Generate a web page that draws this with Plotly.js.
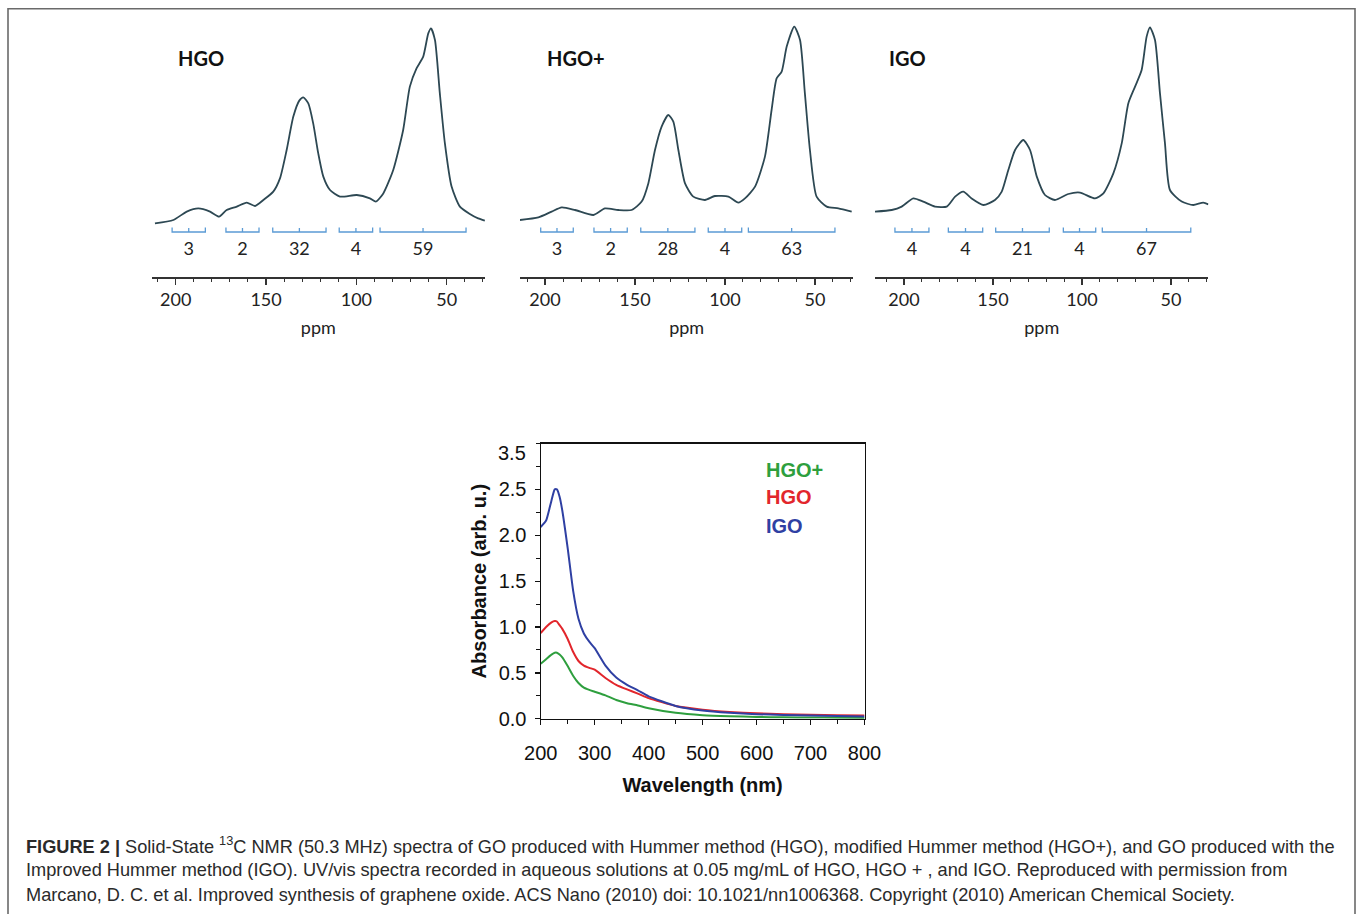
<!DOCTYPE html>
<html>
<head>
<meta charset="utf-8">
<script src="https://cdn.plot.ly/plotly-3.0.1.min.js"></script>
<style>
  html, body { margin: 0; padding: 0; background: #ffffff; }
  #chart { width: 1358px; height: 914px; }
</style>
</head>
<body>
<div id="chart"></div>
<script>
// ---------------- DATA ----------------
// 13C NMR spectra (chemical shift in ppm, relative intensity)
const hgoPpm = [211.5, 201.3, 193.9, 187.5, 181, 176, 171.8, 166.2, 160.7, 156.1, 151.5, 146, 142.3, 138.6, 134.9, 131.6, 129.4, 126.6, 123.9, 121.1, 118.3, 114.6, 109.1, 99.8, 92.5, 89.2, 85.1, 79.6, 74.1, 70.4, 66.7, 63, 60.2, 58.7, 56.5, 53.8, 51, 47.3, 42.7, 37.2, 32.6, 28.9];
const hgoInt = [4.3, 6, 10.2, 11.8, 10.2, 7.7, 11, 12.7, 14.7, 13, 16, 20.2, 26.8, 41, 57.7, 65.7, 67.3, 64.3, 54.3, 39.3, 27.7, 21, 17.7, 18.5, 16.8, 15.2, 19.3, 31, 51, 72.7, 81.8, 87.7, 99.3, 101.8, 96, 69.3, 44.3, 22.7, 12.7, 9, 6.8, 5.7];

const hgoPlusPpm = [213.9, 203.7, 196.3, 190.7, 183.3, 173.1, 166.7, 159.3, 151.9, 146.3, 142.6, 138.9, 135.2, 131.5, 128.7, 125.9, 122.2, 117.6, 111.1, 105.6, 98.1, 92.6, 88.9, 83.3, 77.8, 74.1, 71.3, 68.5, 65.7, 61.5, 58.3, 55.6, 52.8, 49.1, 43.5, 37, 29.6];
const hgoPlusInt = [6, 7.3, 10.2, 12.3, 11, 8.5, 11.8, 11, 11, 15.2, 24.3, 41, 52.7, 58.5, 55.2, 41, 24.3, 17.7, 16, 18, 17.7, 14.7, 16.8, 22.7, 37.7, 61, 76.8, 80.2, 92.7, 102.7, 96, 69.3, 41, 17.7, 12.7, 11.8, 10.2];

const igoPpm = [216.3, 206.9, 201.3, 194.8, 189.2, 182.6, 176, 171.3, 166.7, 162, 155.4, 148.9, 145.1, 141.4, 137.6, 133, 129.2, 125.4, 120.8, 115.2, 107.7, 101.1, 92.7, 88, 82.4, 77.7, 74, 70.2, 66.5, 63.7, 61.8, 59, 56.2, 53.4, 50.6, 44, 37.5, 31.9, 29];
const igoInt = [10.2, 11, 12.7, 16.8, 15.2, 12.7, 12.7, 17.7, 20.2, 16.8, 13.5, 16, 20.2, 31, 41, 46, 41, 27.7, 18.5, 16, 19, 19.7, 16.8, 19.3, 29.3, 44.3, 64.3, 72.7, 81, 97.7, 102.3, 96, 69.3, 44.3, 21, 15.2, 13.5, 14.7, 13.8];

// Integration regions (ppm) and integrals (%)
const hgoBracketStart = [202, 172.2, 146.3, 109.5, 86.9];
const hgoBracketEnd   = [183.6, 153.9, 116.8, 91, 39.3];
const hgoIntegrals    = ["3", "2", "32", "4", "59"];

const hgoPlusBracketStart = [202.4, 172.8, 146.8, 109.3, 87];
const hgoPlusBracketEnd   = [184.3, 154.3, 116.7, 90.7, 38.9];
const hgoPlusIntegrals    = ["3", "2", "28", "4", "63"];

const igoBracketStart = [205.1, 175.1, 148.5, 110.5, 88.6];
const igoBracketEnd   = [186, 155.8, 118.4, 92.3, 38.9];
const igoIntegrals    = ["4", "4", "21", "4", "67"];

const nmrTickVals = [200, 150, 100, 50];
const panelNames = ["HGO", "HGO+", "IGO"];

// UV/vis absorbance spectra
const wavelength = [200, 210, 220, 226, 230, 235, 240, 250, 260, 270, 280, 290, 300, 320, 340, 360, 380, 400, 450, 500, 550, 600, 650, 700, 750, 800];
const absIGO     = [2.09, 2.16, 2.38, 2.50, 2.50, 2.42, 2.27, 1.86, 1.40, 1.09, 0.93, 0.84, 0.77, 0.58, 0.45, 0.37, 0.31, 0.245, 0.14, 0.09, 0.065, 0.05, 0.042, 0.035, 0.03, 0.025];
const absHGO     = [0.935, 1.00, 1.05, 1.065, 1.06, 1.02, 0.98, 0.87, 0.73, 0.63, 0.58, 0.555, 0.535, 0.445, 0.37, 0.32, 0.275, 0.225, 0.14, 0.10, 0.075, 0.06, 0.05, 0.045, 0.04, 0.035];
const absHGOplus = [0.60, 0.65, 0.70, 0.72, 0.72, 0.70, 0.67, 0.575, 0.47, 0.39, 0.34, 0.315, 0.295, 0.255, 0.205, 0.17, 0.145, 0.115, 0.065, 0.04, 0.028, 0.02, 0.016, 0.014, 0.012, 0.01];
const uvLegend = ["HGO+", "HGO", "IGO"];
const uvYTicks = [0, 0.5, 1.0, 1.5, 2.0, 2.5];
const uvYTickText = ["0.0", "0.5", "1.0", "1.5", "2.0", "2.5"];
const uvTopLabel = "3.5";

// ---------------- LAYOUT HELPERS ----------------
const W = 1358, H = 914;
const px = v => v / W;
const py = v => 1 - v / H;

const curveColor = "#2d4853";
const bracketColor = "#5b9bd5";
const nmrFont = "Lato, 'Liberation Sans', Arial, sans-serif";
const uvFont = "'Liberation Sans', Arial, sans-serif";
const colGreen = "#2e9f3e", colRed = "#e2262c", colBlue = "#2f40a3";

function bracketTrace(starts, ends, xa, ya) {
  const xs = [], ys = [];
  for (let i = 0; i < starts.length; i++) {
    const c = (starts[i] + ends[i]) / 2;
    xs.push(starts[i], starts[i], ends[i], ends[i], null, c, c, null);
    ys.push(2.3, 0.0, 0.0, 2.3, null, 0.0, 2.0, null);
  }
  return { x: xs, y: ys, xaxis: xa, yaxis: ya, mode: "lines", type: "scatter",
           line: { color: bracketColor, width: 1.3 }, hoverinfo: "skip", showlegend: false };
}
function labelTrace(starts, ends, labels, xa, ya) {
  return { x: starts.map((s, i) => (s + ends[i]) / 2), y: labels.map(() => -9),
           text: labels, mode: "text", type: "scatter", xaxis: xa, yaxis: ya,
           textfont: { family: nmrFont, size: 18, color: "#222" }, hoverinfo: "skip", showlegend: false };
}
function specTrace(x, y, xa, ya) {
  return { x: x, y: y, xaxis: xa, yaxis: ya, mode: "lines", type: "scatter",
           line: { color: curveColor, width: 1.8, shape: "spline", smoothing: 0.6 },
           hoverinfo: "skip", showlegend: false };
}

const traces = [
  specTrace(hgoPpm, hgoInt, "x", "y"),
  bracketTrace(hgoBracketStart, hgoBracketEnd, "x", "y"),
  labelTrace(hgoBracketStart, hgoBracketEnd, hgoIntegrals, "x", "y"),
  specTrace(hgoPlusPpm, hgoPlusInt, "x2", "y2"),
  bracketTrace(hgoPlusBracketStart, hgoPlusBracketEnd, "x2", "y2"),
  labelTrace(hgoPlusBracketStart, hgoPlusBracketEnd, hgoPlusIntegrals, "x2", "y2"),
  specTrace(igoPpm, igoInt, "x3", "y3"),
  bracketTrace(igoBracketStart, igoBracketEnd, "x3", "y3"),
  labelTrace(igoBracketStart, igoBracketEnd, igoIntegrals, "x3", "y3"),
  { x: wavelength, y: absHGOplus, xaxis: "x4", yaxis: "y4", type: "scatter", mode: "lines",
    line: { color: colGreen, width: 2, shape: "spline", smoothing: 0.5 }, name: "HGO+", showlegend: false },
  { x: wavelength, y: absHGO, xaxis: "x4", yaxis: "y4", type: "scatter", mode: "lines",
    line: { color: colRed, width: 2, shape: "spline", smoothing: 0.5 }, name: "HGO", showlegend: false },
  { x: wavelength, y: absIGO, xaxis: "x4", yaxis: "y4", type: "scatter", mode: "lines",
    line: { color: colBlue, width: 2, shape: "spline", smoothing: 0.5 }, name: "IGO", showlegend: false }
];

function nmrX(domain, range) {
  return {
    domain: domain, range: range, showgrid: false, zeroline: false,
    showline: true, linecolor: "#333", linewidth: 1.5,
    ticks: "outside", ticklen: 6, tickwidth: 1.3, tickcolor: "#333",
    tickvals: nmrTickVals, ticktext: nmrTickVals.map(String),
    tickfont: { family: nmrFont, size: 18, color: "#222" },
    minor: { dtick: 10, ticks: "outside", ticklen: 3, tickwidth: 1, tickcolor: "#333", showgrid: false },
    title: { text: "ppm", font: { family: nmrFont, size: 18, color: "#222" }, standoff: 12 },
    fixedrange: true
  };
}
function nmrY() {
  return { domain: [py(277), py(18)], range: [-22.5, 107], visible: false, showgrid: false, zeroline: false, fixedrange: true };
}

const uvDomX = [px(540.7), px(864.5)];
const uvDomY = [py(718.8), py(443.5)];

const annotations = [];
const nameX = [176, 545, 887];
panelNames.forEach((n, i) => {
  annotations.push({ text: "<b>" + n + "</b>", xref: "paper", yref: "paper", x: px(nameX[i]), y: py(58),
    xanchor: "left", yanchor: "middle", showarrow: false, font: { family: nmrFont, size: 20, color: "#111" } });
});
const legendColors = [colGreen, colRed, colBlue];
const legendY = [2.71, 2.415, 2.10];
uvLegend.forEach((n, i) => {
  annotations.push({ text: "<b>" + n + "</b>", xref: "x4", yref: "y4", x: 613, y: legendY[i],
    xanchor: "left", yanchor: "middle", showarrow: false, font: { family: uvFont, size: 20, color: legendColors[i] } });
});
annotations.push({ text: uvTopLabel, xref: "paper", yref: "y4", x: px(528), y: 2.9, xanchor: "right", yanchor: "middle",
  showarrow: false, font: { family: uvFont, size: 20, color: "#111" } });

const captionLines = [
  "<b>FIGURE 2 |</b> Solid-State <sup>13</sup>C NMR (50.3 MHz) spectra of GO produced with Hummer method (HGO), modified Hummer method (HGO+), and GO produced with the",
  "Improved Hummer method (IGO). UV/vis spectra recorded in aqueous solutions at 0.05 mg/mL of HGO, HGO + , and IGO. Reproduced with permission from",
  "Marcano, D. C. et al. Improved synthesis of graphene oxide. ACS Nano (2010) doi: 10.1021/nn1006368. Copyright (2010) American Chemical Society."
];
const captionY = [845, 870, 895];
captionLines.forEach((t, i) => {
  annotations.push({ text: t, xref: "paper", yref: "paper", x: px(24), y: py(captionY[i]), xanchor: "left", yanchor: "middle",
    showarrow: false, font: { family: uvFont, size: 18.2, color: "#2a2a2a" } });
});

const layout = {
  width: W, height: H,
  margin: { l: 0, r: 0, t: 0, b: 0, pad: 0 },
  paper_bgcolor: "#ffffff", plot_bgcolor: "rgba(0,0,0,0)",
  showlegend: false,
  xaxis:  Object.assign(nmrX([px(151.7), px(485)], [213.3, 28.8]), { anchor: "y" }),
  yaxis:  Object.assign(nmrY(), { anchor: "x" }),
  xaxis2: Object.assign(nmrX([px(520), px(853.3)], [213.9, 28.7]), { anchor: "y2" }),
  yaxis2: Object.assign(nmrY(), { anchor: "x2" }),
  xaxis3: Object.assign(nmrX([px(875), px(1208.4)], [216.3, 29]), { anchor: "y3" }),
  yaxis3: Object.assign(nmrY(), { anchor: "x3" }),
  xaxis4: {
    domain: uvDomX, range: [200, 800], anchor: "y4",
    showline: true, linecolor: "#111", linewidth: 1.2, mirror: true,
    showgrid: false, zeroline: false,
    ticks: "outside", ticklen: 5, tickwidth: 1.2, tickcolor: "#111", dtick: 100, tick0: 200,
    minor: { dtick: 50, ticks: "outside", ticklen: 4, tickwidth: 1, tickcolor: "#111", showgrid: false },
    tickfont: { family: uvFont, size: 20, color: "#111" }, ticklabelstandoff: 11,
    title: { text: "<b>Wavelength (nm)</b>", font: { family: uvFont, size: 20, color: "#111" }, standoff: 15 },
    fixedrange: true
  },
  yaxis4: {
    domain: uvDomY, range: [0, 3.0], anchor: "x4",
    showline: true, linecolor: "#111", linewidth: 1.2, mirror: true,
    showgrid: false, zeroline: false,
    ticks: "outside", ticklen: 5, tickwidth: 1.2, tickcolor: "#111",
    tickvals: uvYTicks, ticktext: uvYTickText,
    minor: { dtick: 0.25, ticks: "outside", ticklen: 4, tickwidth: 1, tickcolor: "#111", showgrid: false },
    tickfont: { family: uvFont, size: 20, color: "#111" }, ticklabelstandoff: 4,
    title: { text: "<b>Absorbance (arb. u.)</b>", font: { family: uvFont, size: 20, color: "#111" }, standoff: 6 },
    fixedrange: true
  },
  shapes: [
    { type: "rect", xref: "paper", yref: "paper", x0: px(8), x1: px(1355), y0: -0.05, y1: py(8.8),
      line: { color: "#6a6a6a", width: 1.6 }, fillcolor: "rgba(0,0,0,0)", layer: "below" }
  ],
  annotations: annotations
};

Plotly.newPlot("chart", traces, layout, { displayModeBar: false, staticPlot: true });
</script>
</body>
</html>
